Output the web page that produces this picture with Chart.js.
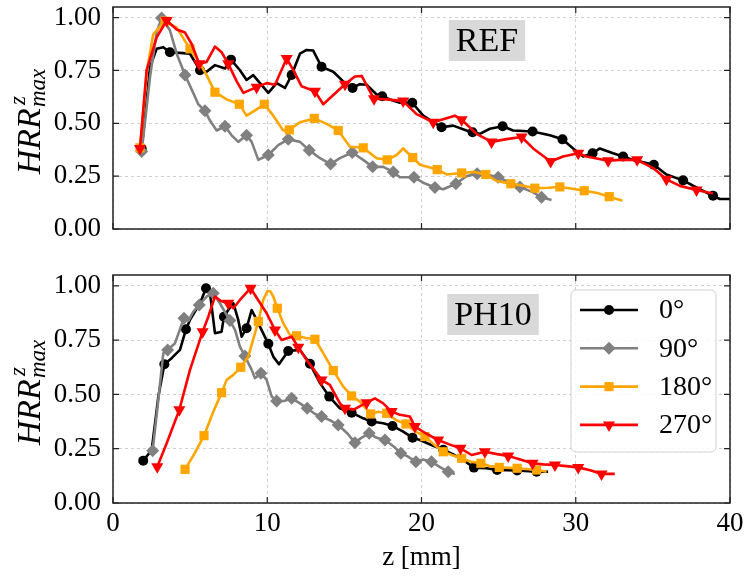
<!DOCTYPE html>
<html>
<head>
<meta charset="utf-8">
<script src="https://cdn.jsdelivr.net/npm/chart.js@4.4.0/dist/chart.umd.min.js"></script>
<style>
  body { margin: 0; background: #fff; }
  #wrap { position: relative; width: 745px; height: 580px; }
  canvas { position: absolute; left: 0; }
</style>
</head>
<body>
<div id="wrap">
  <canvas id="topChart" width="745" height="250" style="top:0"></canvas>
  <canvas id="bottomChart" width="745" height="330" style="top:250px"></canvas>
</div>
<script>
// ---- data (z in mm, normalised HRR) ----
const angleLabels = ['0°', '90°', '180°', '270°'];
const xTicks = [0, 10, 20, 30, 40];
const yTicks = [0, 0.25, 0.5, 0.75, 1.0];

// REF, 0°
const ref0z = [1.86,2.40,2.83,3.26,3.69,4.56,4.99,5.64,6.07,6.61,7.26,7.65,8.23,8.66,9.09,9.53,10.07,10.61,11.15,11.58,12.12,12.55,12.98,13.52,14.28,15.04,15.53,16.00,16.44,17.09,17.45,17.95,18.60,19.40,20.11,21.30,22.05,22.92,23.31,23.78,24.43,25.26,25.94,27.20,28.32,29.14,29.83,30.48,31.09,31.56,32.42,33.07,33.72,35.06,35.88,36.96,38.04,38.90,39.34,40.00];
const ref0h = [0.381,0.767,0.852,0.860,0.836,0.832,0.829,0.751,0.744,0.775,0.759,0.801,0.751,0.705,0.728,0.690,0.644,0.690,0.667,0.728,0.829,0.847,0.844,0.767,0.744,0.690,0.667,0.685,0.682,0.636,0.628,0.613,0.597,0.597,0.536,0.481,0.489,0.466,0.458,0.450,0.474,0.486,0.466,0.461,0.443,0.424,0.381,0.343,0.358,0.381,0.358,0.343,0.327,0.304,0.258,0.230,0.188,0.157,0.142,0.142];
const ref0m = [1,0,0,0,1,0,0,1,0,0,0,1,0,0,0,0,0,0,0,1,0,0,0,1,0,0,1,0,0,0,1,0,0,1,0,1,0,0,1,0,0,1,0,1,0,1,0,0,1,0,0,1,0,1,0,1,0,1,0,0];

// REF, 90°
const ref90z = [1.86,2.40,2.83,3.15,3.69,4.13,4.67,5.20,5.53,5.96,6.29,6.72,7.26,7.69,8.12,8.66,8.99,9.42,10.07,10.71,11.36,12.12,12.72,13.42,14.11,14.71,15.51,16.22,16.83,17.52,18.17,18.60,19.51,20.11,20.87,21.41,22.23,22.92,23.61,24.22,24.97,25.73,26.38,27.24,27.78,28.43];
const ref90h = [0.366,0.720,0.930,0.998,0.940,0.829,0.728,0.644,0.590,0.559,0.513,0.466,0.486,0.443,0.412,0.443,0.412,0.327,0.350,0.397,0.424,0.412,0.373,0.335,0.307,0.335,0.362,0.327,0.294,0.294,0.270,0.245,0.245,0.219,0.196,0.188,0.214,0.250,0.261,0.258,0.245,0.219,0.199,0.173,0.150,0.137];
const ref90m = [1,0,0,1,0,0,1,0,0,1,0,0,1,0,0,1,0,0,1,0,1,0,1,0,1,0,1,0,1,0,1,0,1,0,1,0,1,0,1,0,1,0,1,0,1,0];

// REF, 180°
const ref180z = [1.75,2.20,2.61,3.26,3.37,4.13,4.99,5.64,6.07,6.61,7.37,8.19,8.66,9.31,9.81,10.39,11.04,11.43,12.12,13.05,13.85,14.60,15.36,16.22,17.09,17.78,18.39,18.81,19.43,19.90,21.02,21.63,22.60,23.40,24.17,24.86,25.79,26.60,27.35,28.20,28.97,29.80,30.55,31.40,32.17,33.03];
const ref180h = [0.384,0.750,0.921,0.975,0.983,0.952,0.852,0.782,0.728,0.647,0.613,0.590,0.536,0.566,0.590,0.536,0.466,0.469,0.505,0.523,0.497,0.466,0.389,0.384,0.335,0.327,0.350,0.381,0.338,0.304,0.281,0.258,0.265,0.270,0.258,0.227,0.214,0.205,0.193,0.195,0.199,0.190,0.181,0.170,0.153,0.134];
const ref180m = [1,0,0,0,1,0,1,0,0,1,0,1,0,0,1,0,0,1,0,1,0,1,0,1,0,1,0,0,1,0,1,0,1,0,1,0,1,0,1,0,1,0,1,0,1,0];

// REF, 270°
const ref270z = [1.75,2.18,2.83,3.48,4.13,4.67,5.10,5.59,6.07,6.61,7.04,7.47,8.02,8.45,9.31,9.96,10.50,11.26,11.69,12.23,13.09,13.63,15.04,15.68,16.12,16.92,17.74,18.81,19.68,20.76,22.16,22.60,23.57,24.54,25.50,26.49,27.24,28.37,29.18,30.16,30.70,32.10,32.86,33.98,35.02,35.88,36.75,37.83,38.90];
const ref270h = [0.381,0.751,0.906,0.986,0.944,0.929,0.875,0.782,0.790,0.863,0.836,0.782,0.698,0.644,0.671,0.690,0.682,0.806,0.751,0.675,0.651,0.590,0.685,0.721,0.724,0.616,0.613,0.605,0.543,0.505,0.536,0.517,0.450,0.412,0.425,0.435,0.381,0.319,0.343,0.358,0.343,0.323,0.327,0.327,0.288,0.235,0.204,0.184,0.168];
const ref270m = [1,0,0,1,0,0,0,1,0,0,0,1,0,0,1,0,0,1,0,0,1,0,1,0,0,1,0,1,0,1,0,1,0,1,0,1,0,1,0,1,0,1,0,1,0,1,0,1,0];

// PH10, 0°
const ph0z = [1.96,2.51,2.94,3.33,3.80,4.34,4.73,4.99,5.64,6.03,6.29,6.61,7.04,7.19,7.47,7.80,8.12,8.34,8.66,8.99,9.31,10.07,10.39,10.76,11.36,12.12,12.77,13.42,14.02,14.71,15.47,16.22,16.77,17.52,18.12,18.81,19.42,19.90,20.60,21.41,22.10,22.70,23.40,24.22,24.90,26.20,27.46,28.21];
const ph0h = [0.195,0.244,0.490,0.639,0.667,0.705,0.800,0.843,0.920,0.989,0.966,0.782,0.789,0.858,0.889,0.920,0.843,0.766,0.805,0.889,0.843,0.733,0.674,0.639,0.700,0.705,0.641,0.552,0.490,0.436,0.416,0.390,0.375,0.367,0.355,0.329,0.301,0.290,0.268,0.245,0.222,0.198,0.163,0.160,0.152,0.150,0.144,0.144];
const ph0m = [1,0,0,1,0,0,1,0,0,1,0,0,0,1,0,0,0,0,1,0,0,1,0,0,1,0,1,0,1,0,1,0,1,0,1,0,1,0,0,1,0,0,1,0,1,1,1,0];

// PH10, 90°
const ph90z = [2.57,2.90,3.26,3.54,4.02,4.60,4.90,5.20,5.59,6.07,6.50,6.93,7.58,7.91,8.23,8.55,8.99,9.20,9.59,9.96,10.29,10.61,11.10,11.58,12.10,12.59,13.10,13.52,14.10,14.60,15.20,15.68,16.10,16.61,17.10,17.63,18.20,18.66,19.10,19.64,20.10,20.65,21.20,21.73,22.16];
const ph90h = [0.241,0.450,0.690,0.705,0.736,0.851,0.840,0.880,0.912,0.951,0.966,0.920,0.840,0.797,0.720,0.677,0.613,0.575,0.598,0.567,0.490,0.470,0.470,0.482,0.460,0.436,0.410,0.398,0.380,0.359,0.320,0.278,0.300,0.321,0.300,0.290,0.260,0.229,0.215,0.190,0.200,0.190,0.165,0.144,0.134];
const ph90m = [1,0,0,1,0,1,0,0,1,0,1,0,1,0,0,1,0,0,1,0,0,1,0,1,0,1,0,1,0,1,0,1,0,1,0,1,0,1,0,1,0,1,0,1,0];

// PH10, 180°
const ph180z = [4.67,5.30,5.90,6.50,7.04,7.37,7.80,8.28,8.77,9.42,9.74,10.00,10.20,10.39,10.65,11.04,11.47,11.90,12.50,13.09,13.63,14.28,14.93,15.47,16.01,16.70,17.20,17.74,18.40,18.99,19.60,20.22,20.80,21.41,22.00,22.60,23.20,23.85,24.40,25.04,26.20,27.46,28.11];
const ph180h = [0.155,0.230,0.310,0.420,0.508,0.567,0.590,0.625,0.674,0.836,0.935,0.975,0.975,0.951,0.897,0.828,0.774,0.770,0.760,0.754,0.690,0.610,0.536,0.493,0.467,0.410,0.420,0.413,0.380,0.364,0.330,0.306,0.270,0.236,0.220,0.206,0.190,0.183,0.170,0.164,0.160,0.152,0.144];
const ph180m = [1,0,1,0,1,0,0,1,0,1,0,0,0,0,1,0,0,1,0,1,0,1,0,1,0,1,0,1,0,1,0,1,0,1,0,1,0,1,0,1,1,1,0];

// PH10, 270°
const ph270z = [2.87,3.48,4.30,4.99,5.81,6.18,6.61,7.00,7.47,7.80,8.23,8.92,9.45,9.96,10.50,10.93,11.58,12.01,12.55,13.52,14.06,14.71,15.04,15.60,16.44,16.98,17.50,18.06,18.60,19.25,19.57,20.30,21.08,21.80,22.53,23.25,24.11,24.90,25.62,26.40,27.20,27.90,28.65,29.40,30.16,31.00,31.67,32.53];
const ph270h = [0.167,0.275,0.429,0.613,0.789,0.858,0.951,0.930,0.920,0.897,0.935,0.989,0.930,0.874,0.797,0.751,0.766,0.717,0.659,0.567,0.544,0.459,0.436,0.430,0.462,0.482,0.460,0.421,0.406,0.398,0.352,0.320,0.290,0.270,0.252,0.221,0.236,0.225,0.217,0.200,0.183,0.178,0.175,0.170,0.164,0.150,0.134,0.134];
const ph270m = [1,0,1,0,1,0,0,0,1,0,0,1,0,0,1,0,0,1,0,1,0,0,1,0,1,0,0,1,0,0,1,0,1,0,1,0,1,0,1,0,1,0,1,0,1,0,1,0];

// ---- styling ----
const SERIF = '"Liberation Serif", "DejaVu Serif", serif';
const colors = ['#000000', '#808080', '#ffa500', '#ff0000'];
const markers = [
  { style: 'circle', r: 5, rot: 0 },
  { style: 'rectRot', r: 6.5, rot: 0 },
  { style: 'rect', r: 6.5, rot: 0 },
  { style: 'triangle', r: 7, rot: 180 }
];

function makeSeries(z, h, m, i) {
  return {
    label: angleLabels[i],
    data: z.map((v, k) => ({ x: v, y: h[k] })),
    borderColor: colors[i],
    backgroundColor: colors[i],
    borderWidth: 2.6,
    tension: 0,
    borderJoinStyle: 'round',
    pointStyle: markers[i].style,
    pointRotation: markers[i].rot,
    pointRadius: ctx => m[ctx.dataIndex] ? markers[i].r : 0,
    pointBorderWidth: 0,
    pointBackgroundColor: colors[i],
    order: 3 - i
  };
}

function drawMarker(ctx, i, x, y) {
  const mk = markers[i];
  const r = mk.r;
  ctx.fillStyle = colors[i];
  ctx.beginPath();
  if (mk.style === 'circle') {
    ctx.arc(x, y, r, 0, 2 * Math.PI);
  } else if (mk.style === 'rectRot') {
    ctx.moveTo(x, y - r); ctx.lineTo(x + r, y); ctx.lineTo(x, y + r); ctx.lineTo(x - r, y);
  } else if (mk.style === 'rect') {
    const s = r * Math.SQRT1_2;
    ctx.rect(x - s, y - s, 2 * s, 2 * s);
  } else {
    let a = Math.PI;
    ctx.moveTo(x + Math.sin(a) * r, y - Math.cos(a) * r);
    a += 2 * Math.PI / 3;
    ctx.lineTo(x + Math.sin(a) * r, y - Math.cos(a) * r);
    a += 2 * Math.PI / 3;
    ctx.lineTo(x + Math.sin(a) * r, y - Math.cos(a) * r);
  }
  ctx.closePath();
  ctx.fill();
}

// frame, inward ticks, text box, y title and legend
const decor = {
  id: 'decor',
  afterDraw(chart, args, opts) {
    const ctx = chart.ctx;
    const a = chart.chartArea;
    const xs = chart.scales.x, ys = chart.scales.y;
    ctx.save();
    ctx.strokeStyle = '#222';
    ctx.lineWidth = 1.2;
    ctx.beginPath();
    xTicks.forEach(v => {
      const px = xs.getPixelForValue(v);
      ctx.moveTo(px, a.bottom); ctx.lineTo(px, a.bottom - 6);
      ctx.moveTo(px, a.top); ctx.lineTo(px, a.top + 6);
    });
    yTicks.forEach(v => {
      const py = ys.getPixelForValue(v);
      ctx.moveTo(a.left, py); ctx.lineTo(a.left + 6, py);
      ctx.moveTo(a.right, py); ctx.lineTo(a.right - 6, py);
    });
    ctx.stroke();
    ctx.lineWidth = 1.5;
    ctx.strokeRect(a.left, a.top, a.right - a.left, a.bottom - a.top);

    // label box
    const b = opts.box;
    ctx.font = '34px ' + SERIF;
    const tw = ctx.measureText(b.text).width;
    ctx.fillStyle = '#d9d9d9';
    ctx.fillRect(b.cx - tw / 2 - 7, b.cy - 20, tw + 14, 41);
    ctx.fillStyle = '#000';
    ctx.textAlign = 'center';
    ctx.textBaseline = 'middle';
    ctx.fillText(b.text, b.cx, b.cy + 2);

    // y title HRR^z_max
    const cy = (a.top + a.bottom) / 2 + 3;
    ctx.translate(30, cy);
    ctx.rotate(-Math.PI / 2);
    ctx.textAlign = 'left';
    ctx.textBaseline = 'alphabetic';
    const big = 'italic 34px ' + SERIF, small = 'italic 23px ' + SERIF;
    ctx.font = big; const w1 = ctx.measureText('HRR').width;
    ctx.font = small; const w2 = ctx.measureText('max').width;
    let x0 = -(w1 + w2 + 2) / 2;
    ctx.font = big; ctx.fillText('HRR', x0, 10);
    ctx.font = small;
    ctx.fillText('z', x0 + w1 + 3, -5);
    ctx.fillText('max', x0 + w1 + 1, 15);
    ctx.restore();

    if (opts.legend) {
      ctx.save();
      const L = opts.legend;
      ctx.fillStyle = 'rgba(255,255,255,0.85)';
      ctx.strokeStyle = '#d0d0d0';
      ctx.lineWidth = 1;
      ctx.beginPath();
      ctx.roundRect(L.x, L.y, L.w, L.h, 5);
      ctx.fill();
      ctx.stroke();
      ctx.font = '28px ' + SERIF;
      ctx.textBaseline = 'middle';
      ctx.textAlign = 'left';
      angleLabels.forEach((lab, i) => {
        const ly = L.y + 20 + i * 38.3;
        ctx.strokeStyle = colors[i];
        ctx.lineWidth = 2.6;
        ctx.beginPath();
        ctx.moveTo(L.x + 9, ly); ctx.lineTo(L.x + 67, ly);
        ctx.stroke();
        drawMarker(ctx, i, L.x + 38, ly);
        ctx.fillStyle = '#000';
        ctx.fillText(lab, L.x + 88, ly + 1);
      });
      ctx.restore();
    }
  }
};

function makeOptions(showX, padTop, xHeight, box, legend) {
  return {
    responsive: false,
    animation: false,
    events: [],
    layout: { padding: { top: padTop, right: 15, bottom: 0, left: 0 } },
    scales: {
      x: {
        type: 'linear', min: 0, max: 40,
        afterBuildTicks: s => { s.ticks = xTicks.map(v => ({ value: v })); },
        afterFit: s => { s.height = xHeight; s.paddingLeft = 0; s.paddingRight = 0; },
        grid: { color: '#c4c4c4', lineWidth: 0.8, drawTicks: false },
        border: { display: false, dash: [3, 3] },
        ticks: { display: showX, padding: 5, color: '#000', font: { family: SERIF, size: 27 }, maxRotation: 0 },
        title: { display: showX, text: 'z [mm]', color: '#000', font: { family: SERIF, size: 27 }, padding: { top: 0, bottom: 6 } }
      },
      y: {
        type: 'linear', min: 0, max: 1.05,
        afterBuildTicks: s => { s.ticks = yTicks.map(v => ({ value: v })); },
        afterFit: s => { s.width = 113; s.paddingTop = 0; s.paddingBottom = 0; },
        grid: { color: '#c4c4c4', lineWidth: 0.8, drawTicks: false },
        border: { display: false, dash: [3, 3] },
        ticks: { padding: 12, color: '#000', font: { family: SERIF, size: 27 }, callback: v => v.toFixed(2) }
      }
    },
    plugins: {
      legend: { display: false },
      tooltip: { enabled: false },
      decor: { box: box, legend: legend }
    }
  };
}

new Chart(document.getElementById('topChart'), {
  type: 'line',
  data: {
    datasets: [
      makeSeries(ref0z, ref0h, ref0m, 0),
      makeSeries(ref90z, ref90h, ref90m, 1),
      makeSeries(ref180z, ref180h, ref180m, 2),
      makeSeries(ref270z, ref270h, ref270m, 3)
    ]
  },
  options: makeOptions(false, 2, 21, { text: 'REF', cx: 487, cy: 40 }, null),
  plugins: [decor]
});

new Chart(document.getElementById('bottomChart'), {
  type: 'line',
  data: {
    datasets: [
      makeSeries(ph0z, ph0h, ph0m, 0),
      makeSeries(ph90z, ph90h, ph90m, 1),
      makeSeries(ph180z, ph180h, ph180m, 2),
      makeSeries(ph270z, ph270h, ph270m, 3)
    ]
  },
  options: makeOptions(true, 25, 77, { text: 'PH10', cx: 493, cy: 64 }, { x: 571, y: 40, w: 145, h: 162 }),
  plugins: [decor]
});
</script>
</body>
</html>
